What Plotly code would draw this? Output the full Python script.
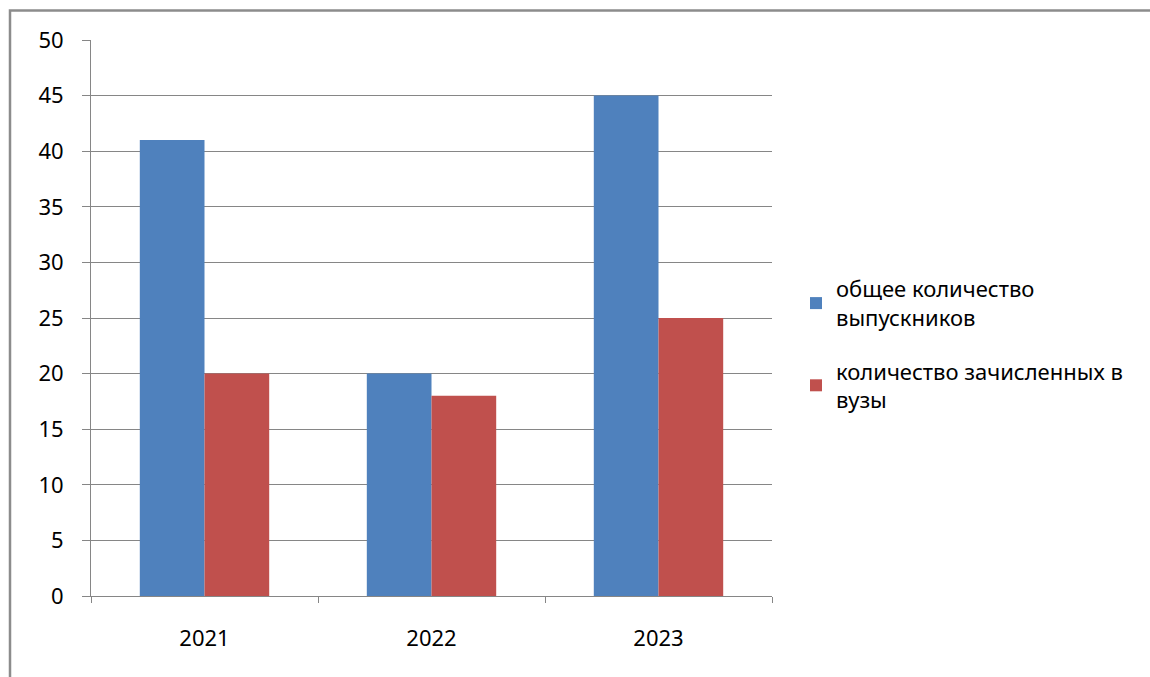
import plotly.graph_objects as go

years = ["2021", "2022", "2023"]
graduates = [41, 20, 45]
enrolled = [20, 18, 25]
name_grad = "общее количество<br>выпускников"
name_enr = "количество зачисленных в<br>вузы"

OFF = 0  # body margin removed via post_script
W, H = 1150, 677
L, R, T, B = 91, 772, 40, 596

fig = go.Figure()
fig.add_trace(go.Bar(x=years, y=graduates, name=name_grad, legendgroup="a",
                     marker_color="#4F81BD", marker_line_width=0))
fig.add_trace(go.Bar(x=years, y=enrolled, name=name_enr, legendgroup="b",
                     marker_color="#C0504D", marker_line_width=0))

def px_x(p):
    return (p - OFF - L) / (R - L)

def px_y(p):
    return (B - (p - OFF)) / (B - T)

font = "Noto Sans, Open Sans, sans-serif"
fig.update_layout(
    width=W, height=H,
    margin=dict(l=L, r=W - R, t=T, b=H - B, pad=0),
    paper_bgcolor="white", plot_bgcolor="white",
    barmode="group", bargap=0.43, bargroupgap=0,
    font=dict(family=font, size=22, color="#000000"),
    legend=dict(x=px_x(796), y=px_y(268), xanchor="left", yanchor="top",
                font=dict(size=22), tracegroupgap=22, itemwidth=30,
                bgcolor="rgba(0,0,0,0)"),
    showlegend=True,
    shapes=[dict(type="path", xref="paper", yref="paper",
                 path=f"M {px_x(10)} {px_y(690)} L {px_x(10)} {px_y(10.5)} L {px_x(1160)} {px_y(10.5)}",
                 line=dict(color="#8c8c8c", width=2.5))],
)
fig.update_xaxes(showgrid=False, showline=True, linecolor="#868686", linewidth=1,
                 ticks="outside", tickson="boundaries", ticklen=6, tickcolor="#868686",
                 tickfont=dict(size=22), ticklabelstandoff=23)
fig.update_yaxes(range=[0, 50], dtick=5, showgrid=True, gridcolor="#868686", gridwidth=1,
                 showline=True, linecolor="#868686", linewidth=1,
                 ticks="outside", ticklen=8, tickcolor="#868686",
                 tickfont=dict(size=22), zeroline=False, ticklabelstandoff=14)

fig.write_html("out.html", config={"displayModeBar": False},
               post_script="document.body.style.margin='0';document.body.style.overflow='hidden';")
